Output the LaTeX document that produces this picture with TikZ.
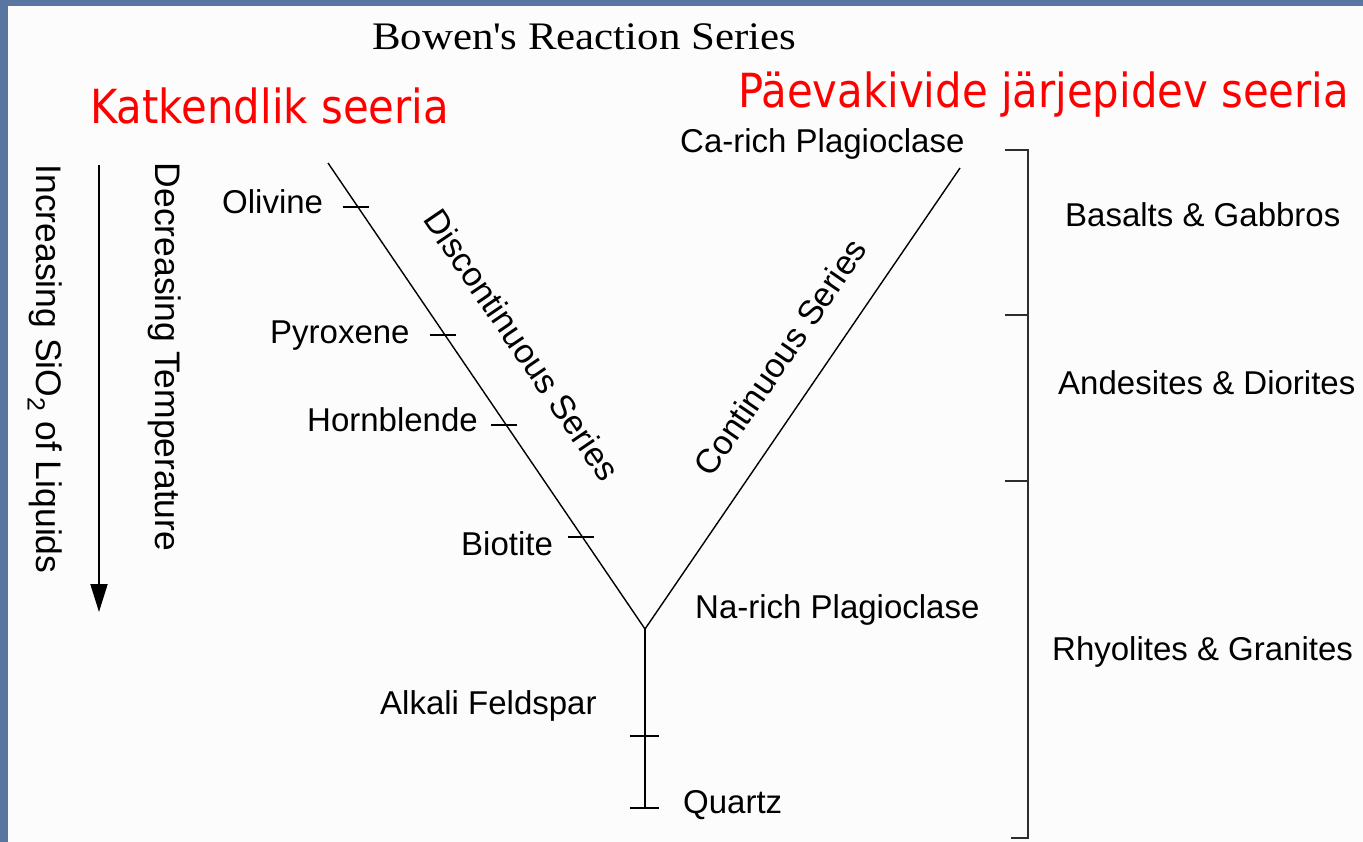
\documentclass[tikz,border=0pt]{standalone}
\usepackage{fontspec}
\setmainfont{Liberation Sans}
\newfontfamily\redfont[FakeStretch=0.89]{DejaVu Sans}
\newfontfamily\titlefont[FakeStretch=1.1]{Liberation Serif}
\usetikzlibrary{arrows.meta,calc}
\definecolor{slide}{RGB}{88,118,160}
\definecolor{redtxt}{RGB}{255,0,0}
\definecolor{brk}{RGB}{45,45,45}
\definecolor{paper}{RGB}{252,252,252}
\tikzset{
  lbl/.style={inner sep=0pt, anchor=base west, font=\fontsize{33}{40}\selectfont},
  rlbl/.style={inner sep=0pt, font=\fontsize{35.5}{42}\selectfont},
  slbl/.style={inner sep=0pt, font=\fontsize{34}{40}\selectfont},
  redlbl/.style={inner sep=0pt, anchor=base west, text=redtxt, font=\redfont\fontsize{47}{56}\selectfont},
  series/.style={line width=1.4pt, black},
  tick/.style={line width=1.8pt, black},
  bracket/.style={line width=2.6pt, brk},
}
\begin{document}
\begin{tikzpicture}[x=1pt,y=-1pt]
\useasboundingbox (0,0) rectangle (1363,842);
\fill[slide] (0,0) rectangle (1363,842);
\fill[paper] (8,6) rectangle (1363,842);

% title
\node[inner sep=0pt, anchor=base west, font=\titlefont\fontsize{39}{46}\selectfont] (title) at (372,50) {Bowen\textquotesingle s Reaction Series};

% red headings
\node[redlbl] (katk) at (90,124) {Katkendlik seeria};
\node[redlbl] (paev) at (738,108) {Päevakivide järjepidev seeria};

% V diagram
\coordinate (topL) at (328,163);
\coordinate (junc) at (645,629);
\coordinate (topR) at (960,168);
\coordinate (bot) at (645,808);
\draw[series] (topL) -- (junc) -- (topR);
\draw[tick] (junc) -- (bot);

% ticks on discontinuous branch
\coordinate (tOl) at ($(topL)!0.094!(junc)$);
\coordinate (tPy) at ($(topL)!0.369!(junc)$);
\coordinate (tHb) at ($(topL)!0.562!(junc)$);
\coordinate (tBi) at ($(topL)!0.803!(junc)$);
\foreach \c in {tOl,tPy,tHb,tBi}{
  \draw[tick] ($(\c)+(-15,0)$) -- ($(\c)+(11,0)$);
}
\coordinate (tKf) at (645,736);
\draw[tick] ($(tKf)+(-15,0)$) -- ($(tKf)+(14,0)$);
\draw[tick] ($(bot)+(-15,0)$) -- ($(bot)+(14,0)$);

% mineral labels
\node[lbl] (ol) at (222,214) {Olivine};
\node[lbl] (py) at (270,344) {Pyroxene};
\node[lbl] (hb) at (307,431) {Hornblende};
\node[lbl] (bi) at (461,555) {Biotite};
\node[lbl] (kf) at (380,714) {Alkali Feldspar};
\node[lbl] (qz) at (683,813) {Quartz};
\node[lbl] (ca) at (680,153) {Ca-rich Plagioclase};
\node[lbl] (na) at (695,618) {Na-rich Plagioclase};

% series labels
\node[slbl, rotate=-55.8] (disc) at (522,345) {Discontinuous Series};
\node[slbl, rotate=55.6] (cont) at (780,357) {Continuous Series};

% left axis
\coordinate (arrS) at (99,165);
\coordinate (arrE) at (99,612);
\draw[line width=2pt, -{Triangle[length=28pt,width=17pt]}] (arrS) -- (arrE);
\node[rlbl, rotate=-90] (sio) at (45,369) {Increasing SiO\textsubscript{2} of Liquids};
\node[rlbl, rotate=-90] (temp) at (165,357) {Decreasing Temperature};

% right bracket
\coordinate (b0) at (1028,150);
\coordinate (b1) at (1028,315);
\coordinate (b2) at (1028,481);
\coordinate (b3) at (1028,838);
\draw[bracket] ($(b0)+(-23,0)$) -- (b0) -- (b3) -- ($(b3)+(-17,0)$);
\draw[bracket] ($(b1)+(-23,0)$) -- (b1);
\draw[bracket] ($(b2)+(-23,0)$) -- (b2);

\node[lbl] (bas) at (1065,227) {Basalts \& Gabbros};
\node[lbl] (and) at (1058,394) {Andesites \& Diorites};
\node[lbl] (rhy) at (1052,660) {Rhyolites \& Granites};
\end{tikzpicture}
\end{document}
